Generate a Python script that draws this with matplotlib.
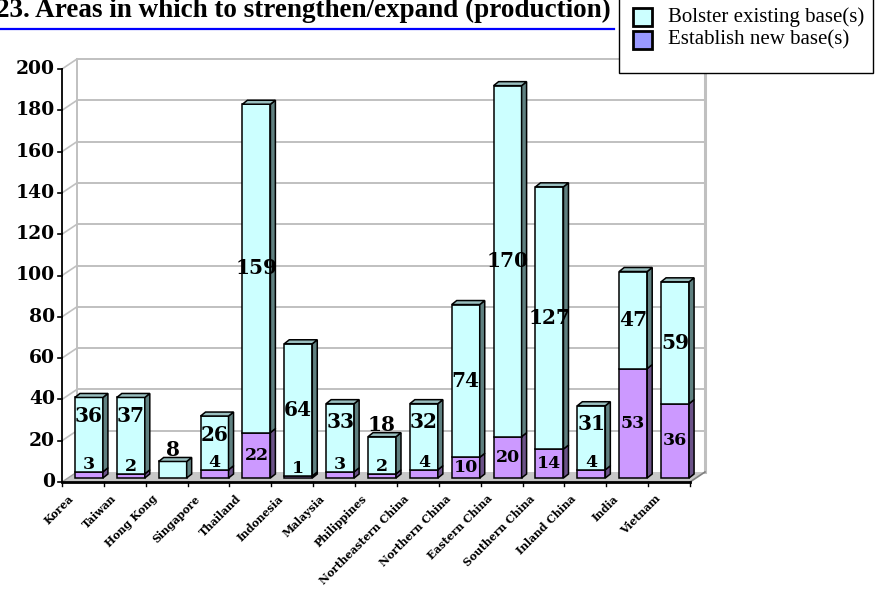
import matplotlib
matplotlib.use('Agg')
import matplotlib.pyplot as plt
from matplotlib.patches import Polygon, Rectangle

categories = ['Korea', 'Taiwan', 'Hong Kong', 'Singapore', 'Thailand', 'Indonesia',
              'Malaysia', 'Philippines', 'Northeastern China', 'Northern China',
              'Eastern China', 'Southern China', 'Inland China', 'India', 'Vietnam']
new_base = [3, 2, 0, 4, 22, 1, 3, 2, 4, 10, 20, 14, 4, 53, 36]
bolster = [36, 37, 8, 26, 159, 64, 33, 18, 32, 74, 170, 127, 31, 47, 59]
yticks = [0, 20, 40, 60, 80, 100, 120, 140, 160, 180, 200]

title = '23. Areas in which to strengthen/expand (production)'
legend_labels = ['Bolster existing base(s)', 'Establish new base(s)']

W, H = 875, 591
fig = plt.figure(figsize=(W / 100, H / 100), dpi=100)
fig.patch.set_facecolor('white')

# front plane of the 3D box, in pixels
left, right, bottom, top = 62, 690, 482, 69
ax = fig.add_axes([left / W, (H - bottom) / H, (right - left) / W, (bottom - top) / H])
n = len(categories)
ax.set_xlim(-0.5, n - 0.5)
ax.set_ylim(0, 200)
ax.axis('off')

ppx = (right - left) / n        # pixels per category
ppy = (bottom - top) / 200.0    # pixels per unit


def d(px, py):
    return px / ppx, py / ppy


wx, wy = d(15, 10)      # depth of the box
ox, oy = d(6, 4)        # where the bars stand inside the box
bx, by = d(5, 4)        # depth of each bar
bw = 28 / ppx

grid_c = '#c0c0c0'
x0, x1 = -0.5, n - 0.5

# back wall grid and left wall diagonals
for t in yticks[1:]:
    ax.plot([x0 + wx, x1 + wx], [t + wy, t + wy], color=grid_c, lw=1.4, zorder=1, clip_on=False)
    ax.plot([x0, x0 + wx], [t, t + wy], color=grid_c, lw=1.2, zorder=1, clip_on=False)
ax.plot([x0 + wx, x0 + wx], [wy, 200 + wy], color=grid_c, lw=1.4, zorder=1, clip_on=False)
ax.plot([x1 + wx, x1 + wx], [wy, 200 + wy], color=grid_c, lw=2.2, zorder=1, clip_on=False)

# floor
floor = Polygon([(x0, 0), (x1, 0), (x1 + wx, wy), (x0 + wx, wy)], closed=True,
                facecolor='#c8c8c8', edgecolor='none', zorder=2, clip_on=False)
ax.add_patch(floor)
ax.plot([x1, x1 + wx], [0, wy], color='#808080', lw=1.2, zorder=2, clip_on=False)
ax.plot([x0, x0 + wx], [0, wy], color='#a0a0a0', lw=1.0, zorder=2, clip_on=False)

cyan, cyan_side, cyan_top = '#ccffff', '#5f8080', '#99bfbf'
purp, purp_side = '#cc99ff', '#6b5288'


def box(xc, y0, y1, face, side, topc, z):
    xl, xr = xc - bw / 2, xc + bw / 2
    kw = dict(closed=True, edgecolor='black', lw=1.1, joinstyle='miter', zorder=z, clip_on=False)
    ax.add_patch(Polygon([(xl, y0), (xr, y0), (xr, y1), (xl, y1)], facecolor=face, **kw))
    ax.add_patch(Polygon([(xr, y0), (xr + bx, y0 + by), (xr + bx, y1 + by), (xr, y1)],
                         facecolor=side, **kw))
    if topc is not None:
        ax.add_patch(Polygon([(xl, y1), (xr, y1), (xr + bx, y1 + by), (xl + bx, y1 + by)],
                             facecolor=topc, **kw))


lab_font = dict(family='DejaVu Serif', fontweight='bold', color='black')
for i, (nb, bo) in enumerate(zip(new_base, bolster)):
    xc = i + ox
    z = 3 + i * 0.01
    if nb > 0:
        box(xc, oy, oy + nb, purp, purp_side, None, z)
    box(xc, oy + nb, oy + nb + bo, cyan, cyan_side, cyan_top, z)

    tot = nb + bo
    if bo < 20:
        ly = tot + 5.5
    elif bo < 40:
        ly = tot - 9
    else:
        ly = nb + bo / 2
    ax.text(xc, ly + oy, str(bo), ha='center', va='center', fontsize=14.5, zorder=6, **lab_font)
    if nb > 0:
        ly = nb + 3.5 if nb < 10 else nb / 2
        ax.text(xc, ly + oy, str(nb), ha='center', va='center', fontsize=12.5, zorder=6, **lab_font)

# front axes
ax.plot([x0, x0], [0, 200], color='black', lw=1.3, zorder=5, clip_on=False)
ax.plot([x0, x1], [0, 0], color='black', lw=2.0, zorder=5, clip_on=False)
tx, _ = d(4, 0)
_, ty = d(0, 4)
for t in yticks:
    ax.plot([x0 - tx, x0], [t, t], color='black', lw=1.2, zorder=5, clip_on=False)
    ax.text(x0 - d(7, 0)[0], t, str(t), ha='right', va='center', fontsize=13.5,
            family='DejaVu Serif', fontweight='bold')
for k in range(n + 1):
    ax.plot([x0 + k, x0 + k], [0, -ty], color='black', lw=1.0, zorder=5, clip_on=False)

lx, ly_ = d(7, 11)
for i, name in enumerate(categories):
    ax.text(i - lx, -ly_, name, ha='right', va='top', rotation=45, fontsize=7.8,
            family='DejaVu Serif', fontweight='bold')


def fx(px):
    return px / W


def fy(py):
    return (H - py) / H


# title and rule
fig.text(fx(-4), fy(17), title, ha='left', va='baseline', fontsize=19.5,
         family='Liberation Serif', fontweight='bold')
fig.add_artist(plt.Line2D([0, fx(614)], [fy(28.5), fy(28.5)], color='#0000ff', lw=1.6))

# legend box
fig.add_artist(Rectangle((fx(619), fy(73)), fx(873) - fx(619), fy(-5) - fy(73),
                         transform=fig.transFigure, facecolor='white', edgecolor='black', lw=1.0))
for k, (lab, col) in enumerate(zip(legend_labels, [cyan, '#9999ff'])):
    yc = 17 + 23 * k
    fig.add_artist(Rectangle((fx(633), fy(yc + 9)), fx(652) - fx(633), fy(yc - 9) - fy(yc + 9),
                             transform=fig.transFigure, facecolor=col, edgecolor='black', lw=2.0))
    fig.text(fx(668), fy(yc), lab, ha='left', va='center', fontsize=15,
             family='Liberation Serif')

fig.savefig('out.png', dpi=100)
